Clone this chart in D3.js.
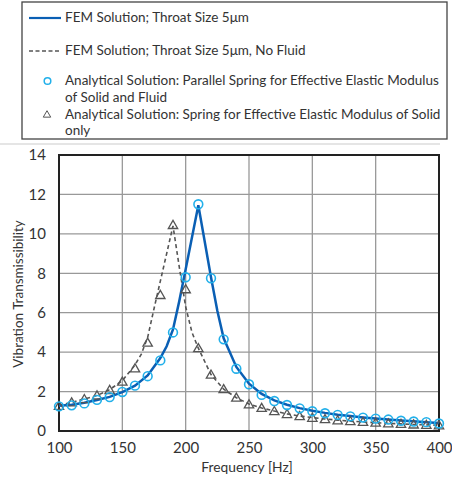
<!DOCTYPE html>
<html><head><meta charset="utf-8">
<script src="https://cdn.jsdelivr.net/npm/d3@7"></script>
<style>body{margin:0;background:#fff}svg{display:block}text{font-family:Lato,"Noto Sans",sans-serif;fill:#333}</style>
</head><body>
<svg id="c" width="452" height="477"></svg>
<script>
const xTicks = [100,150,200,250,300,350,400];
const yTicks = [0,2,4,6,8,10,12,14];
const analyticFreq = [100,110,120,130,140,150,160,170,180,190,200,210,220,230,240,250,260,270,280,290,300,310,320,330,340,350,360,370,380,390,400];
const parallelSpring = [1.25,1.3,1.4,1.58,1.72,1.98,2.3,2.78,3.58,5.0,7.8,11.5,7.75,4.65,3.16,2.37,1.83,1.52,1.32,1.15,1.0,0.9,0.82,0.74,0.68,0.63,0.58,0.52,0.48,0.45,0.38];
const solidSpring = [1.27,1.45,1.62,1.8,2.08,2.5,3.18,4.48,6.9,10.45,7.19,4.2,2.86,2.12,1.69,1.35,1.17,1.01,0.86,0.75,0.67,0.6,0.54,0.5,0.46,0.42,0.39,0.36,0.33,0.31,0.29];
const femFreq = [100,110,120,130,140,150,160,170,180,185,190,195,200,210,220,225,230,240,250,260,270,280,290,300,310,320,330,340,350,360,370,380,390,400];
const femFluid = [1.28,1.33,1.43,1.57,1.73,1.97,2.3,2.82,3.7,4.3,5.15,6.6,8.2,11.45,7.8,6.1,4.7,3.25,2.4,1.88,1.55,1.33,1.16,1.03,0.92,0.83,0.76,0.69,0.63,0.58,0.53,0.49,0.45,0.4];
const femNoFluidFreq = [100,110,120,130,140,150,160,165,170,175,180,185,190,195,200,205,210,220,230,240,250,260,270,280,290,300,310,320,330,340,350,360,370,380,390,400];
const femNoFluid = [1.3,1.45,1.62,1.8,2.1,2.55,3.35,3.9,4.75,6.2,7.6,9.0,10.4,8.3,6.3,5.0,4.2,2.86,2.12,1.69,1.37,1.17,1.01,0.87,0.76,0.68,0.61,0.55,0.5,0.46,0.42,0.39,0.36,0.33,0.31,0.29];
const legendLabels = ["FEM Solution; Throat Size 5\u03bcm","FEM Solution; Throat Size 5\u03bcm, No Fluid",["Analytical Solution: Parallel Spring for Effective Elastic Modulus","of Solid and Fluid"],["Analytical Solution: Spring for Effective Elastic Modulus of Solid","only"]];
const xTitle = "Frequency [Hz]";
const yTitle = "Vibration Transmissibility";

const svg = d3.select("#c");
const L=59,R=439,T=155,B=431;
const x = d3.scaleLinear().domain([100,400]).range([L,R]);
const y = d3.scaleLinear().domain([0,14]).range([B,T]);
const blue="#0a5fb4", cyan="#22b0ea", gray="#555";

// separator line
svg.append("line").attr("x1",0).attr("x2",440).attr("y1",144).attr("y2",144).attr("stroke","#ddd").attr("stroke-width",1.5);

// grid
const g = svg.append("g");
g.selectAll(".gx").data(xTicks.slice(1,-1)).join("line").attr("x1",d=>x(d)).attr("x2",d=>x(d)).attr("y1",T).attr("y2",B).attr("stroke","#999").attr("stroke-width",1.3);
g.selectAll(".gy").data(yTicks.slice(1,-1)).join("line").attr("x1",L).attr("x2",R).attr("y1",d=>y(d)).attr("y2",d=>y(d)).attr("stroke","#999").attr("stroke-width",1.3);
g.append("rect").attr("x",L).attr("y",T).attr("width",R-L).attr("height",B-T).attr("fill","none").attr("stroke","#222").attr("stroke-width",2);

// axes labels via d3 axes
const xa = svg.append("g").attr("transform",`translate(0,${B})`).call(d3.axisBottom(x).tickValues(xTicks).tickSize(0).tickPadding(11));
const ya = svg.append("g").attr("transform",`translate(${L},0)`).call(d3.axisLeft(y).tickValues(yTicks).tickSize(0).tickPadding(13));
[xa,ya].forEach(a=>{a.select(".domain").remove();a.selectAll("text").attr("font-size",15).attr("font-family","Lato").attr("fill","#333");});

svg.append("text").attr("x",247).attr("y",472).attr("text-anchor","middle").attr("font-size",13.8).text(xTitle);
svg.append("text").attr("transform","translate(23,294) rotate(-90)").attr("text-anchor","middle").attr("font-size",13.5).text(yTitle);

// lines
const line = d3.line().x(d=>x(d[0])).y(d=>y(d[1]));
svg.append("path").datum(femNoFluidFreq.map((f,i)=>[f,femNoFluid[i]])).attr("d",line).attr("fill","none").attr("stroke",gray).attr("stroke-width",1.6).attr("stroke-dasharray","4,3");
svg.append("path").datum(femFreq.map((f,i)=>[f,femFluid[i]])).attr("d",line).attr("fill","none").attr("stroke",blue).attr("stroke-width",2.5);

// markers
const tri = d3.symbol().type(d3.symbolTriangle).size(38);
svg.selectAll(".tri").data(analyticFreq.map((f,i)=>[f,solidSpring[i]])).join("path")
  .attr("d",tri).attr("transform",d=>`translate(${x(d[0])},${y(d[1])+0.8})`).attr("fill","none").attr("stroke",gray).attr("stroke-width",1.3);
svg.selectAll(".cir").data(analyticFreq.map((f,i)=>[f,parallelSpring[i]])).join("circle")
  .attr("cx",d=>x(d[0])).attr("cy",d=>y(d[1])).attr("r",4.4).attr("fill","none").attr("stroke",cyan).attr("stroke-width",1.6);

// legend
const lg = svg.append("g");
lg.append("rect").attr("x",22).attr("y",2).attr("width",425).attr("height",137).attr("fill","#fff").attr("stroke","#444").attr("stroke-width",1.3);
lg.append("line").attr("x1",29).attr("x2",61).attr("y1",18).attr("y2",18).attr("stroke",blue).attr("stroke-width",2.2);
lg.append("line").attr("x1",29).attr("x2",61).attr("y1",51).attr("y2",51).attr("stroke",gray).attr("stroke-width",1.3).attr("stroke-dasharray","4,2.5");
lg.append("circle").attr("cx",47.5).attr("cy",81).attr("r",3.3).attr("fill","none").attr("stroke",cyan).attr("stroke-width",1.5);
lg.append("path").attr("d",d3.symbol().type(d3.symbolTriangle).size(24)).attr("transform","translate(47,115)").attr("fill","none").attr("stroke",gray).attr("stroke-width",1);
// fit legend font so the longest line spans the same width as in the reference
const probe = lg.append("text").attr("font-size",13).text(legendLabels[2][0]);
const fs = Math.min(14, 13*374/probe.node().getComputedTextLength());
probe.remove();
lg.append("text").attr("x",65).attr("y",22).attr("font-size",fs).text(legendLabels[0]);
lg.append("text").attr("x",65).attr("y",55).attr("font-size",fs).text(legendLabels[1]);
lg.append("text").attr("x",65).attr("y",85).attr("font-size",fs).text(legendLabels[2][0]);
lg.append("text").attr("x",65).attr("y",102).attr("font-size",fs).text(legendLabels[2][1]);
lg.append("text").attr("x",65).attr("y",119).attr("font-size",fs).text(legendLabels[3][0]);
lg.append("text").attr("x",65).attr("y",135).attr("font-size",fs).text(legendLabels[3][1]);
</script>
</body></html>
